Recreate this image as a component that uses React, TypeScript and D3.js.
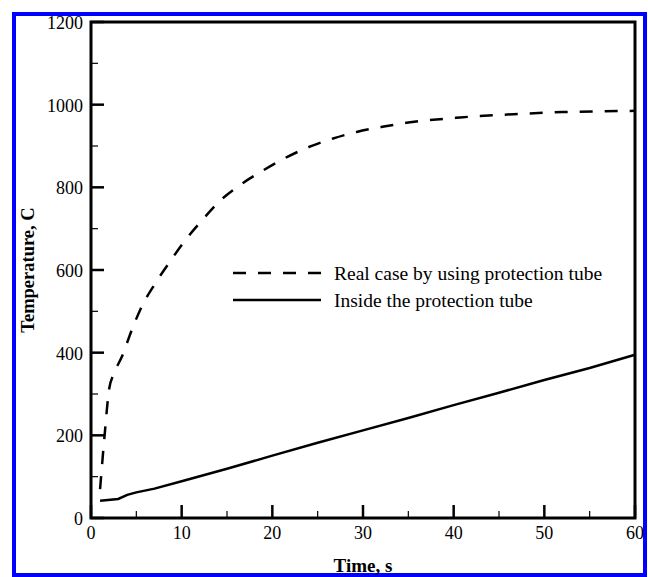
import React from "react";
import * as d3 from "d3";

const realTime = [1, 1.5, 2, 2.5, 3.4, 4.5, 5.6, 7.1, 8.6, 10.4, 12.4, 14.2, 16.4, 19, 21.6, 24.2, 26.7, 29.3, 32.3, 34.8, 40.7, 46.6, 52, 60];
const realTemp = [70, 200, 312, 348, 390, 455, 512, 568, 617, 672, 724, 767, 805, 841, 873, 899, 918, 934, 947, 956, 969, 977, 982, 985];

const insideTime = [1, 3, 4, 5, 7, 10, 15, 20, 25, 30, 35, 40, 45, 50, 55, 60];
const insideTemp = [42, 46, 56, 62, 71, 89, 119, 151, 182, 212, 242, 273, 303, 334, 363, 395];

const xMajor = [0, 10, 20, 30, 40, 50, 60];
const xMinor = [5, 15, 25, 35, 45, 55];
const yMajor = [0, 200, 400, 600, 800, 1000, 1200];
const yMinor = [100, 300, 500, 700, 900, 1100];

const legendLabels = ["Real case by using protection tube", "Inside the protection tube"];

export default function App() {
  const W = 648, H = 577;
  const x = d3.scaleLinear().domain([0, 60]).range([91, 635]);
  const y = d3.scaleLinear().domain([0, 1200]).range([518, 22]);
  const font = "'Liberation Serif', 'Times New Roman', serif";

  const realPts: [number, number][] = realTime.map((t, i) => [t, realTemp[i]]);
  const insidePts: [number, number][] = insideTime.map((t, i) => [t, insideTemp[i]]);
  const lineGen = d3.line<[number, number]>().x(d => x(d[0])).y(d => y(d[1]));
  const smoothGen = d3.line<[number, number]>().x(d => x(d[0])).y(d => y(d[1])).curve(d3.curveMonotoneX);

  const x0 = x(0), x1 = x(60), y0 = y(0), y1 = y(1200);

  return (
    <svg width={W} height={H} style={{ position: "absolute", left: 0, top: 0 }} fontFamily={font}>
      <rect x={0} y={0} width={W} height={H} fill="#fff" />
      <rect x={14} y={14} width={631} height={561} fill="none" stroke="#0000ff" strokeWidth={4} />

      {/* curves */}
      <path d={smoothGen(realPts) || ""} fill="none" stroke="#000" strokeWidth={2.5} strokeDasharray="13,12" />
      <path d={lineGen(insidePts) || ""} fill="none" stroke="#000" strokeWidth={2.5} />

      {/* ticks */}
      {xMajor.map(v => (
        <line key={"xM" + v} x1={x(v)} x2={x(v)} y1={y0} y2={y0 - 13} stroke="#000" strokeWidth={2.5} />
      ))}
      {xMinor.map(v => (
        <line key={"xm" + v} x1={x(v)} x2={x(v)} y1={y0} y2={y0 - 7} stroke="#000" strokeWidth={1.2} />
      ))}
      {yMajor.map(v => (
        <line key={"yM" + v} x1={x0} x2={x0 + 13} y1={y(v)} y2={y(v)} stroke="#000" strokeWidth={2.5} />
      ))}
      {yMinor.map(v => (
        <line key={"ym" + v} x1={x0} x2={x0 + 7} y1={y(v)} y2={y(v)} stroke="#000" strokeWidth={1.2} />
      ))}

      {/* frame */}
      <rect x={x0} y={y1} width={x1 - x0} height={y0 - y1} fill="none" stroke="#000" strokeWidth={3} />

      {/* tick labels */}
      {xMajor.map(v => (
        <text key={"xl" + v} x={x(v)} y={539} textAnchor="middle" fontSize={18} fill="#000">{v}</text>
      ))}
      {yMajor.map(v => (
        <text key={"yl" + v} x={83} y={y(v) + 7} textAnchor="end" fontSize={18} fill="#000">{v}</text>
      ))}

      {/* axis titles */}
      <text x={(x0 + x1) / 2} y={572} textAnchor="middle" fontSize={19} fontWeight="bold" fill="#000">Time, s</text>
      <text transform={`translate(34,270) rotate(-90)`} textAnchor="middle" fontSize={18.5} fontWeight="bold" fill="#000">Temperature, C</text>

      {/* legend */}
      <line x1={233} x2={321} y1={273} y2={273} stroke="#000" strokeWidth={2.5} strokeDasharray="13,12" />
      <line x1={233} x2={321} y1={300} y2={300} stroke="#000" strokeWidth={2.5} />
      <text x={334} y={280} fontSize={19.5} fill="#000">{legendLabels[0]}</text>
      <text x={334} y={307} fontSize={19.5} fill="#000">{legendLabels[1]}</text>
    </svg>
  );
}
